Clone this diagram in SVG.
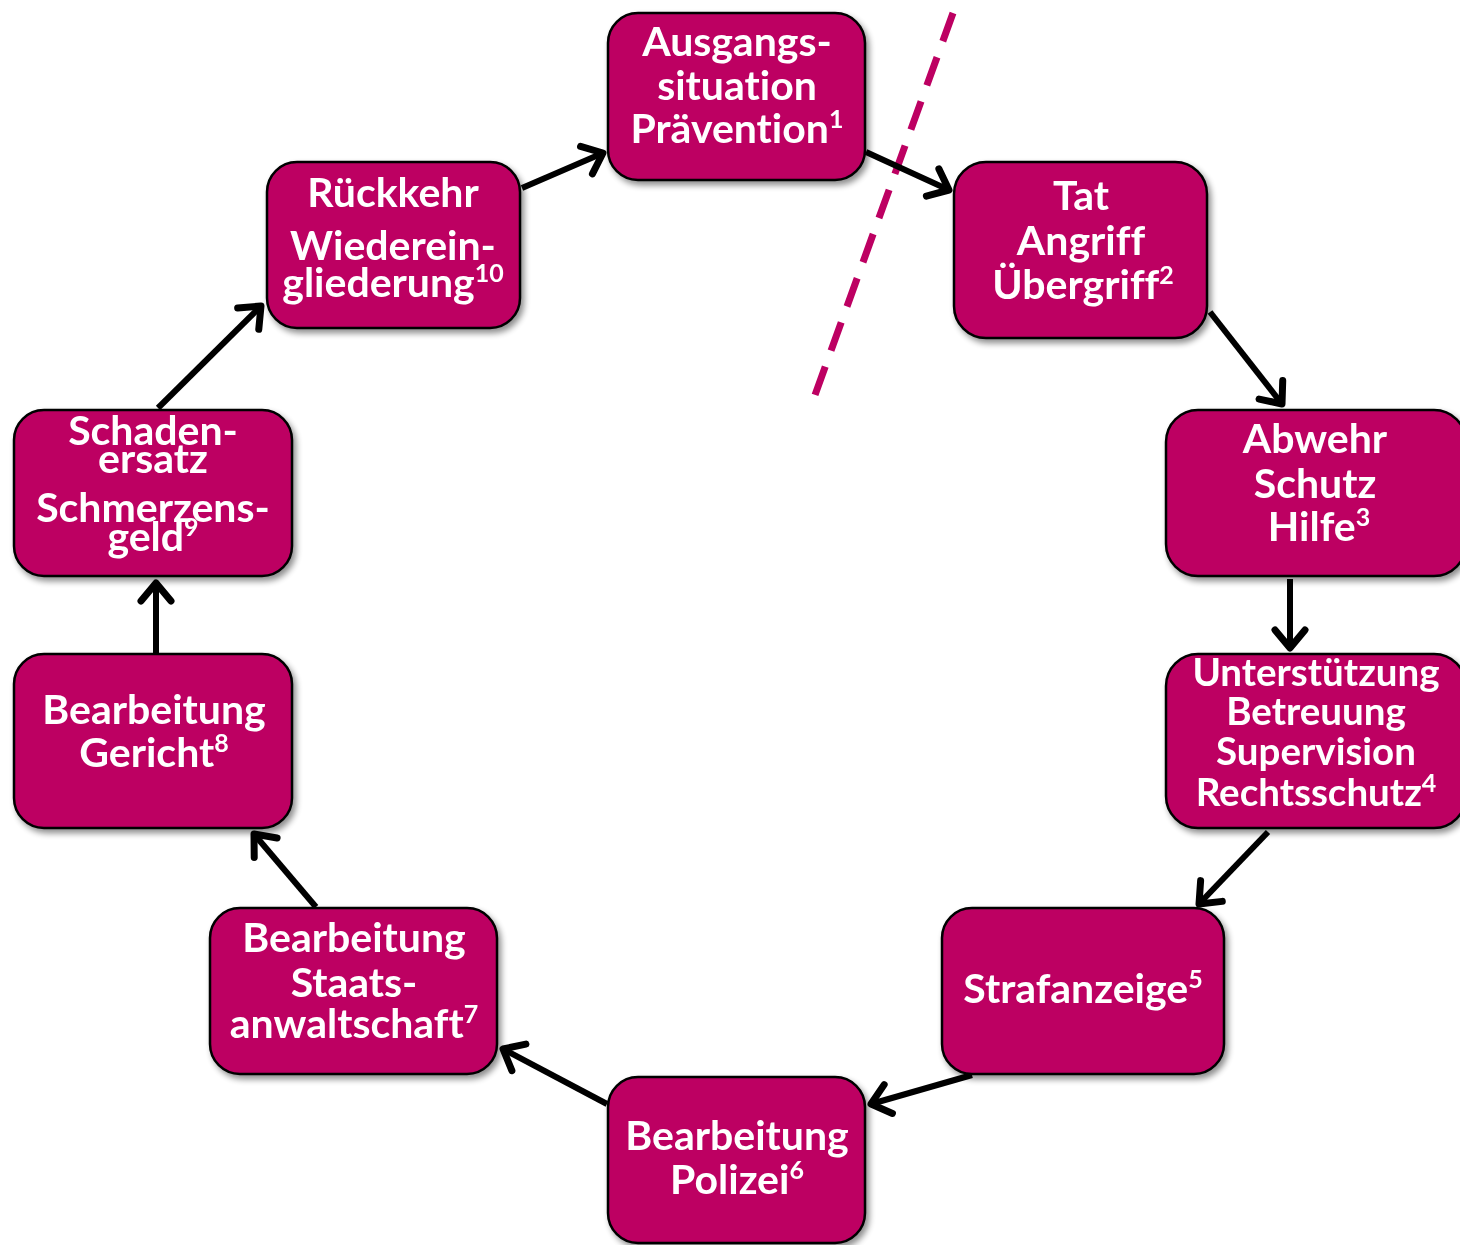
<svg xmlns="http://www.w3.org/2000/svg" width="1460" height="1245" viewBox="0 0 1460 1245">
<defs>
<filter id="sh" x="-10%" y="-10%" width="130%" height="130%">
<feGaussianBlur in="SourceAlpha" stdDeviation="3"/>
<feOffset dx="3" dy="4" result="b"/>
<feComponentTransfer><feFuncA type="linear" slope="0.45"/></feComponentTransfer>
<feMerge><feMergeNode/><feMergeNode in="SourceGraphic"/></feMerge>
</filter>
<marker id="ah" markerUnits="userSpaceOnUse" markerWidth="50" markerHeight="50" viewBox="-25 -25 50 50" refX="0" refY="0" orient="auto">
<path d="M-18,-15 L0,0 L-18,15" fill="none" stroke="#000" stroke-width="7" stroke-linecap="round" stroke-linejoin="round"/>
</marker>
</defs>
<style>
.box{fill:#BD0062;stroke:#000;stroke-width:2.5}
.t{font-family:Lato,"Open Sans","Liberation Sans",sans-serif;font-weight:700;font-size:41px;fill:#fff;text-anchor:middle;font-variant-ligatures:none}
.s{font-size:25px}
.c{stroke:#000;stroke-width:6;fill:none;marker-end:url(#ah)}
</style>
<rect width="1460" height="1245" fill="#fff"/>
<line x1="953" y1="13" x2="815" y2="395" stroke="#BD0062" stroke-width="7" stroke-dasharray="30,17"/>
<g id="connectors">
<line class="c" x1="522" y1="188" x2="603" y2="153"/>
<line class="c" x1="866" y1="152" x2="949" y2="190"/>
<line class="c" x1="1210" y1="312" x2="1282" y2="404"/>
<line class="c" x1="1290" y1="579" x2="1290" y2="648"/>
<line class="c" x1="1268" y1="832" x2="1199" y2="904"/>
<line class="c" x1="972" y1="1075" x2="871" y2="1104"/>
<line class="c" x1="607" y1="1104" x2="503" y2="1049"/>
<line class="c" x1="316" y1="907" x2="254" y2="834"/>
<line class="c" x1="156" y1="654" x2="156" y2="583"/>
<line class="c" x1="158" y1="408" x2="261" y2="306"/>
</g>
<g id="n1" filter="url(#sh)"><rect class="box" x="608" y="13" width="257" height="167" rx="30"/>
<text class="t"><tspan x="737" y="56">Ausgangs-</tspan><tspan x="737" y="100">situation</tspan><tspan x="737" y="143">Prävention<tspan class="s" dy="-15">1</tspan></tspan></text></g>
<g id="n2" filter="url(#sh)"><rect class="box" x="954" y="162" width="253" height="176" rx="32"/>
<text class="t"><tspan x="1081" y="210">Tat</tspan><tspan x="1081" y="255">Angriff</tspan><tspan x="1083" y="299">Übergriff<tspan class="s" dy="-15">2</tspan></tspan></text></g>
<g id="n3" filter="url(#sh)"><rect class="box" x="1166" y="410" width="300" height="166" rx="32"/>
<text class="t"><tspan x="1315" y="453">Abwehr</tspan><tspan x="1315" y="498">Schutz</tspan><tspan x="1319" y="541">Hilfe<tspan class="s" dy="-15">3</tspan></tspan></text></g>
<g id="n4" filter="url(#sh)"><rect class="box" x="1166" y="654" width="300" height="174" rx="32"/>
<text class="t" style="font-size:38.5px"><tspan x="1316" y="686">Unterstützung</tspan><tspan x="1316" y="725">Betreuung</tspan><tspan x="1316" y="765">Supervision</tspan><tspan x="1316" y="806">Rechtsschutz<tspan class="s" dy="-14">4</tspan></tspan></text></g>
<g id="n5" filter="url(#sh)"><rect class="box" x="942" y="908" width="282" height="166" rx="30"/>
<text class="t"><tspan x="1083" y="1003">Strafanzeige<tspan class="s" dy="-15">5</tspan></tspan></text></g>
<g id="n6" filter="url(#sh)"><rect class="box" x="608" y="1077" width="257" height="166" rx="30"/>
<text class="t"><tspan x="737" y="1150">Bearbeitung</tspan><tspan x="737" y="1194">Polizei<tspan class="s" dy="-15">6</tspan></tspan></text></g>
<g id="n7" filter="url(#sh)"><rect class="box" x="210" y="908" width="287" height="166" rx="30"/>
<text class="t"><tspan x="354" y="952">Bearbeitung</tspan><tspan x="354" y="997">Staats-</tspan><tspan x="354" y="1038">anwaltschaft<tspan class="s" dy="-15">7</tspan></tspan></text></g>
<g id="n8" filter="url(#sh)"><rect class="box" x="14" y="654" width="278" height="174" rx="30"/>
<text class="t"><tspan x="154" y="724">Bearbeitung</tspan><tspan x="154" y="767">Gericht<tspan class="s" dy="-15">8</tspan></tspan></text></g>
<g id="n9" filter="url(#sh)"><rect class="box" x="14" y="410" width="278" height="166" rx="30"/>
<text class="t"><tspan x="153" y="445">Schaden-</tspan><tspan x="153" y="473">ersatz</tspan><tspan x="153" y="522">Schmerzens-</tspan><tspan x="153" y="551">geld<tspan class="s" dy="-15">9</tspan></tspan></text></g>
<g id="n10" filter="url(#sh)"><rect class="box" x="267" y="162" width="253" height="166" rx="30"/>
<text class="t"><tspan x="393" y="207">Rückkehr</tspan><tspan x="393" y="260">Wiederein-</tspan><tspan x="393" y="297">gliederung<tspan class="s" dy="-15">10</tspan></tspan></text></g>
</svg>
